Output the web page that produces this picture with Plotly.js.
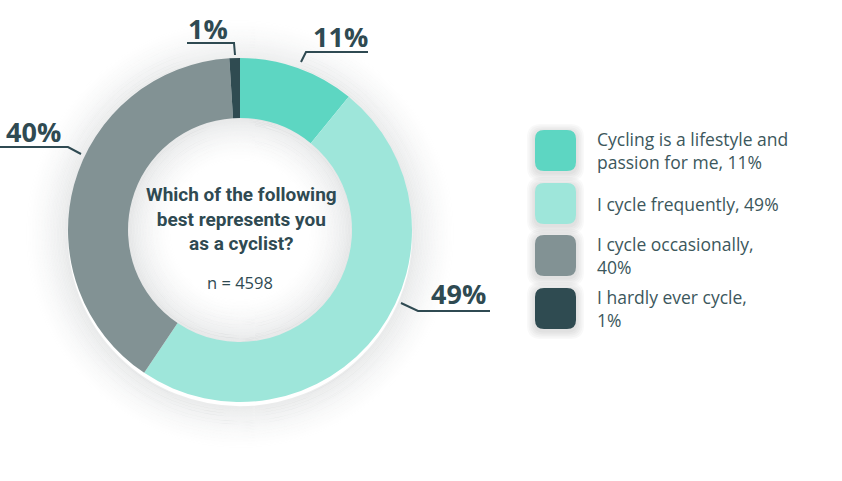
<!DOCTYPE html>
<html>
<head>
<meta charset="utf-8">
<script src="https://cdn.plot.ly/plotly-3.0.1.min.js"></script>
<style>html,body{margin:0;padding:0;background:#fff;}#chart{width:842px;height:481px;}</style>
</head>
<body>
<div id="chart"></div>
<script>
const categories = ["Cycling is a lifestyle and passion for me", "I cycle frequently", "I cycle occasionally", "I hardly ever cycle"];
const values = [11, 49, 40, 1];
const valueLabels = ["11%", "49%", "40%", "1%"];
const legendLabels = ["Cycling is a lifestyle and<br>passion for me, 11%", "I cycle frequently, 49%", "I cycle occasionally,<br>40%", "I hardly ever cycle,<br>1%"];
const colors = ["#5dd6c2", "#9ee6da", "#829294", "#2f4b51"];
const centerTitle = "Which of the following<br>best represents you<br>as a cyclist?";
const centerNote = "n = 4598";

const W = 842, H = 481;
const px = x => x / W;
const py = y => 1 - y / H;
const CX = 240, CY = 230, R = 172, RIN = 112;
const dark = "#2f4a52";

const shapes = [];
// soft shadow around the donut
const nOut = 30;
for (let i = 0; i < nOut; i++) {
  const r = R + 1 + i * 1.5;
  shapes.push({type: "circle", layer: "below", xref: "paper", yref: "paper",
    xsizemode: "pixel", ysizemode: "pixel", xanchor: px(CX), yanchor: py(CY + 4),
    x0: -r, x1: r, y0: -r, y1: r,
    line: {width: 1.6, color: `rgba(70,80,84,${(0.11 * Math.pow(1 - i / nOut, 1.6)).toFixed(4)})`}, fillcolor: "rgba(0,0,0,0)"});
}
// shading inside the hole
const nIn = 32;
for (let i = 0; i < nIn; i++) {
  const r = RIN - i * 1.5;
  shapes.push({type: "circle", layer: "below", xref: "paper", yref: "paper",
    xsizemode: "pixel", ysizemode: "pixel", xanchor: px(CX), yanchor: py(CY),
    x0: -r, x1: r, y0: -r, y1: r,
    line: {width: 1.6, color: `rgba(70,80,84,${(0.13 * Math.pow(1 - i / nIn, 1.8)).toFixed(4)})`}, fillcolor: "rgba(0,0,0,0)"});
}
// leader lines (decoration)
const leaders = [
  [[301, 62], [306, 52], [368, 52]],
  [[401, 303], [418, 311], [490, 311]],
  [[81, 154], [68, 147], [0, 147]],
  [[235, 55], [234, 43], [187, 43]]
];
leaders.forEach(pts => {
  const d = pts.map((p, i) => (i ? "L" : "M") + px(p[0]) + "," + py(p[1])).join(" ");
  shapes.push({type: "path", xref: "paper", yref: "paper", path: d, line: {color: dark, width: 2}});
});
// legend swatches
function rrect(x0, y0, x1, y1, r) {
  const X = px, Y = py;
  return `M${X(x0 + r)},${Y(y0)} L${X(x1 - r)},${Y(y0)} Q${X(x1)},${Y(y0)} ${X(x1)},${Y(y0 + r)} L${X(x1)},${Y(y1 - r)} Q${X(x1)},${Y(y1)} ${X(x1 - r)},${Y(y1)} L${X(x0 + r)},${Y(y1)} Q${X(x0)},${Y(y1)} ${X(x0)},${Y(y1 - r)} L${X(x0)},${Y(y0 + r)} Q${X(x0)},${Y(y0)} ${X(x0 + r)},${Y(y0)} Z`;
}
const swTop = [130, 183, 235, 288];
const swSize = 41;
const annotations = [];
categories.forEach((c, i) => {
  const y0 = swTop[i];
  for (let k = 5; k >= 1; k--) {
    shapes.push({type: "path", xref: "paper", yref: "paper", layer: "below",
      path: rrect(535 - k * 1.6, y0 - k * 1.6 + 2, 576 + k * 1.6, y0 + swSize + k * 1.6 + 2, 9 + k),
      fillcolor: "rgba(60,70,72,0.03)", line: {width: 0}});
  }
  shapes.push({type: "path", xref: "paper", yref: "paper",
    path: rrect(535, y0, 576, y0 + swSize, 9), fillcolor: colors[i], line: {width: 0}});
  annotations.push({xref: "paper", yref: "paper", x: px(595), y: py(y0 + swSize / 2),
    xanchor: "left", yanchor: "middle", align: "left", showarrow: false,
    text: legendLabels[i], font: {family: "Open Sans, sans-serif", size: 17.5, color: "#3c575c"}});
});
// value labels
const labelPos = [[340, 36], [458, 293], [33, 131], [208, 28]];
valueLabels.forEach((t, i) => {
  annotations.push({xref: "paper", yref: "paper", x: px(labelPos[i][0]), y: py(labelPos[i][1]),
    xanchor: "center", yanchor: "middle", showarrow: false, text: "<b>" + t + "</b>",
    font: {family: "Open Sans, sans-serif", size: 27, color: dark}});
});
// center text
annotations.push({xref: "paper", yref: "paper", x: px(CX + 1), y: py(219), xanchor: "center", yanchor: "middle",
  showarrow: false, text: "<b>" + centerTitle + "</b>",
  font: {family: "Roboto, sans-serif", size: 19, color: dark}});
annotations.push({xref: "paper", yref: "paper", x: px(CX), y: py(282), xanchor: "center", yanchor: "middle",
  showarrow: false, text: centerNote, font: {family: "Open Sans, sans-serif", size: 16.5, color: dark}});

const trace = {
  type: "pie", values: values, labels: categories, hole: RIN / R,
  sort: false, direction: "clockwise", rotation: 0,
  marker: {colors: colors, line: {width: 0}},
  textinfo: "none", hoverinfo: "label+percent", showlegend: false,
  domain: {x: [px(CX - R), px(CX + R)], y: [py(CY + R), py(CY - R)]}
};
const layout = {
  width: W, height: H, margin: {l: 0, r: 0, t: 0, b: 0},
  paper_bgcolor: "#ffffff", plot_bgcolor: "#ffffff",
  showlegend: false, shapes: shapes, annotations: annotations
};
Plotly.newPlot("chart", [trace], layout, {displayModeBar: false, staticPlot: true});
</script>
</body>
</html>
